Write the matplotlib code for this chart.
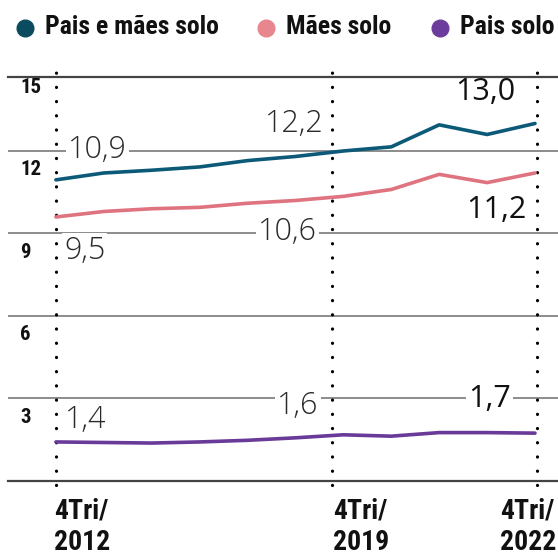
import matplotlib
matplotlib.use("Agg")
import matplotlib.pyplot as plt
from matplotlib.lines import Line2D
from matplotlib import font_manager

years = ["2012", "2013", "2014", "2015", "2016", "2017", "2018", "2019", "2020", "2021", "2022"]
pais_e_maes = [10.95, 11.2, 11.3, 11.42, 11.65, 11.8, 12.0, 12.15, 12.95, 12.6, 13.0]
maes = [9.6, 9.8, 9.9, 9.95, 10.1, 10.2, 10.35, 10.6, 11.15, 10.85, 11.2]
pais = [1.42, 1.4, 1.38, 1.42, 1.48, 1.57, 1.68, 1.63, 1.76, 1.76, 1.74]
yticks = [3, 6, 9, 12, 15]
series_names = ["Pais e mães solo", "Mães solo", "Pais solo"]
xlabels = ["4Tri/\n2012", "4Tri/\n2019", "4Tri/\n2022"]

names = {f.name for f in font_manager.fontManager.ttflist}
bold_font = "DejaVu Sans"
for cand in ["Roboto Condensed", "Liberation Sans Narrow", "Roboto", "Lato"]:
    if cand in names:
        bold_font = cand
        break
light = "Open Sans"

c_blue = "#0d5a78"
c_pink = "#df7480"
c_purp = "#6a3a98"
leg_colors = ["#0b4b5f", "#e8868e", "#6c3c9c"]

fig = plt.figure(figsize=(5.58, 5.58), dpi=100)
W = H = 558.0
ax = fig.add_axes([8 / W, (558 - 481) / H, 550 / W, (481 - 77) / H])
x = list(range(len(years)))
ax.set_xlim(-1.0, 10.48)
ax.set_ylim(0, 14.69)

for g in [3, 6, 9, 12]:
    ax.axhline(g, color="#8c8c8c", lw=1.4, zorder=1)
for s in ["top", "bottom"]:
    ax.spines[s].set_color("#444444")
    ax.spines[s].set_linewidth(1.6)
for s in ["left", "right"]:
    ax.spines[s].set_visible(False)
ax.set_xticks([])
ax.set_yticks([])

# dotted vertical markers (positions as drawn in the reference)
vline_pos = [0, 5.76, 10.04]
for xv in vline_pos:
    ax.plot([xv, xv], [-0.15, 14.9], color="black", lw=2.3,
            dashes=[0.05, 4.4], dash_capstyle="round", clip_on=False, zorder=2)

ax.plot(x, pais_e_maes, color=c_blue, lw=2.6, zorder=4, solid_capstyle="round")
ax.plot(x, maes, color=c_pink, lw=2.6, zorder=4, solid_capstyle="round")
ax.plot(x, pais, color=c_purp, lw=2.6, zorder=4, solid_capstyle="round")

bb = dict(facecolor="white", edgecolor="none", pad=1.5)
def lab(xx, yy, t, weight="light", color="#2a2a2a", box=True):
    ax.text(xx, yy, t, ha="center", va="center", fontsize=22, family=light,
            fontweight=weight, color=color, bbox=bb if box else None, zorder=3)

lab(0.86, 12.05, "10,9")
lab(0.6, 8.35, "9,5")
lab(4.84, 9.05, "10,6")
lab(4.98, 12.98, "12,2", box=False)
lab(8.96, 14.15, "13,0", weight="normal", color="#111111", box=False)
lab(9.19, 9.85, "11,2", weight="normal", color="#111111", box=False)
lab(0.62, 2.2, "1,4", box=False)
lab(5.05, 2.72, "1,6")
lab(9.05, 2.98, "1,7", weight="normal", color="#111111")

for v in yticks:
    ax.text(-1.0 + 12 / 47.9, v - 0.68, str(v), ha="left", va="center",
            fontsize=15, fontweight="bold", family=bold_font, color="#111111")

# x labels (two lines each)
for px, t in zip([54, 333, 500], xlabels):
    l1, l2 = t.split("\n")
    fig.text(px / W, 1 - 511 / H, l1, ha="left", va="center", fontsize=20,
             fontweight="bold", family=bold_font, color="#111111")
    fig.text(px / W, 1 - 543 / H, l2, ha="left", va="center", fontsize=20,
             fontweight="bold", family=bold_font, color="#111111")

# legend
leg_x = [25, 266, 440]
for lx, name, col in zip(leg_x, series_names, leg_colors):
    fig.add_artist(Line2D([lx / W], [1 - 28 / H], marker="o", markersize=12,
                          color=col, transform=fig.transFigure))
    fig.text((lx + 20) / W, 1 - 27 / H, name, ha="left", va="center", fontsize=18.5,
             fontweight="bold", family=bold_font, color="#111111")

fig.savefig("out.png", dpi=100, facecolor="white")
